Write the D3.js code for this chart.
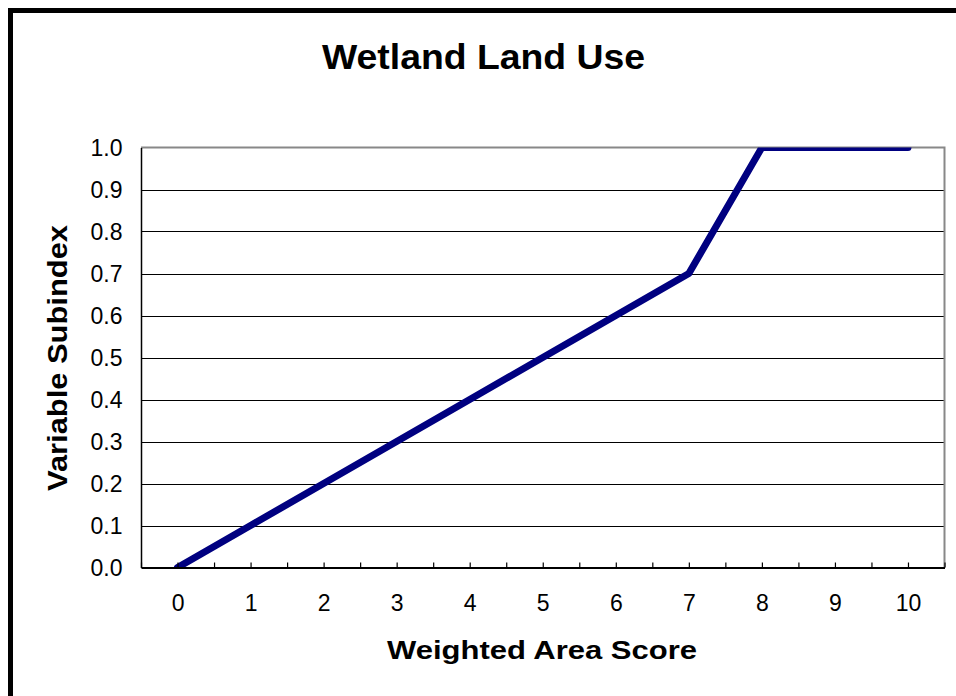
<!DOCTYPE html>
<html>
<head>
<meta charset="utf-8">
<script src="https://cdn.jsdelivr.net/npm/d3@7"></script>
<style>
  body { margin: 0; background: #fff; }
  svg { display: block; font-family: "Liberation Sans", Arial, sans-serif; }
</style>
</head>
<body>
<svg width="956" height="696"></svg>
<script>
// data
const scores = [0, 1, 2, 3, 4, 5, 6, 7, 8, 9, 10]
const subindex = [0, 0.1, 0.2, 0.3, 0.4, 0.5, 0.6, 0.7, 1.0, 1.0, 1.0]
const yTicks = [0, 0.1, 0.2, 0.3, 0.4, 0.5, 0.6, 0.7, 0.8, 0.9, 1.0]
const xMinorTicks = d3.range(-0.5, 10.51, 0.5)

const svg = d3.select('svg')
const plot = { left: 141, right: 944.5, top: 147.5, bottom: 567.5 }
const font = '"Liberation Sans", Arial, sans-serif'

const x = d3.scaleLinear().domain([-0.5, 10.5]).range([plot.left, plot.right])
const y = d3.scaleLinear().domain([0, 1]).range([plot.bottom, plot.top])

// outer frame (right/bottom edges run off the picture)
svg.append('rect')
  .attr('x', 10.5).attr('y', 10.5)
  .attr('width', 980).attr('height', 720)
  .attr('fill', 'none')
  .attr('stroke', '#000')
  .attr('stroke-width', 5)

svg.append('text')
  .attr('x', 483.5).attr('y', 68.5)
  .attr('text-anchor', 'middle')
  .attr('font-size', 35).attr('font-weight', 'bold')
  .attr('textLength', 323).attr('lengthAdjust', 'spacingAndGlyphs')
  .text('Wetland Land Use')

// gridlines
svg.append('g')
  .selectAll('line')
  .data(yTicks.slice(1, -1))
  .enter()
  .append('line')
  .attr('x1', plot.left).attr('x2', plot.right)
  .attr('y1', d => Math.round(y(d)) + 0.5).attr('y2', d => Math.round(y(d)) + 0.5)
  .attr('stroke', '#000')
  .attr('stroke-width', 1)

// top and right border in gray
svg.append('path')
  .attr('d', `M${plot.left},${plot.top}H${plot.right}V${plot.bottom}`)
  .attr('fill', 'none')
  .attr('stroke', '#888')
  .attr('stroke-width', 2)

// data line, clipped to the plot
svg.append('clipPath').attr('id', 'clip')
  .append('rect')
  .attr('x', plot.left).attr('y', plot.top)
  .attr('width', plot.right - plot.left).attr('height', plot.bottom - plot.top)

const line = d3.line()
  .x((d, i) => x(scores[i]))
  .y(d => y(d))

svg.append('path')
  .datum(subindex)
  .attr('clip-path', 'url(#clip)')
  .attr('d', line)
  .attr('fill', 'none')
  .attr('stroke', '#000080')
  .attr('stroke-width', 7)
  .attr('stroke-linejoin', 'round')
  .attr('stroke-linecap', 'round')

// y axis
const gy = svg.append('g')
  .attr('transform', `translate(${plot.left},0)`)
  .call(d3.axisLeft(y).tickValues(yTicks).tickFormat(d3.format('.1f')).tickSize(0).tickPadding(18.5))
gy.select('.domain').attr('stroke', '#000').attr('stroke-width', 1.5)
gy.selectAll('text')
  .attr('font-size', 23)
  .attr('font-family', font)
  .attr('fill', '#000')
  .attr('dy', '0.36em')

// x axis: inside ticks every half unit, labels on the integers
const gxTicks = svg.append('g')
  .attr('transform', `translate(0,${plot.bottom})`)
  .call(d3.axisTop(x).tickValues(xMinorTicks).tickSize(5).tickFormat(''))
gxTicks.select('.domain').remove()
gxTicks.selectAll('line').attr('stroke', '#000').attr('stroke-width', 1.2)

const gx = svg.append('g')
  .attr('transform', `translate(0,${plot.bottom})`)
  .call(d3.axisBottom(x).tickValues(scores).tickSize(0).tickPadding(27))
gx.select('.domain').attr('stroke', '#000').attr('stroke-width', 2)
gx.selectAll('text')
  .attr('font-size', 23)
  .attr('font-family', font)
  .attr('fill', '#000')

// axis titles
svg.append('text')
  .attr('x', 542).attr('y', 658.5)
  .attr('text-anchor', 'middle')
  .attr('font-size', 25.6).attr('font-weight', 'bold')
  .attr('textLength', 310).attr('lengthAdjust', 'spacingAndGlyphs')
  .text('Weighted Area Score')

svg.append('text')
  .attr('transform', 'translate(67,358) rotate(-90)')
  .attr('text-anchor', 'middle')
  .attr('font-size', 28).attr('font-weight', 'bold')
  .attr('textLength', 266).attr('lengthAdjust', 'spacingAndGlyphs')
  .text('Variable Subindex')
</script>
</body>
</html>
